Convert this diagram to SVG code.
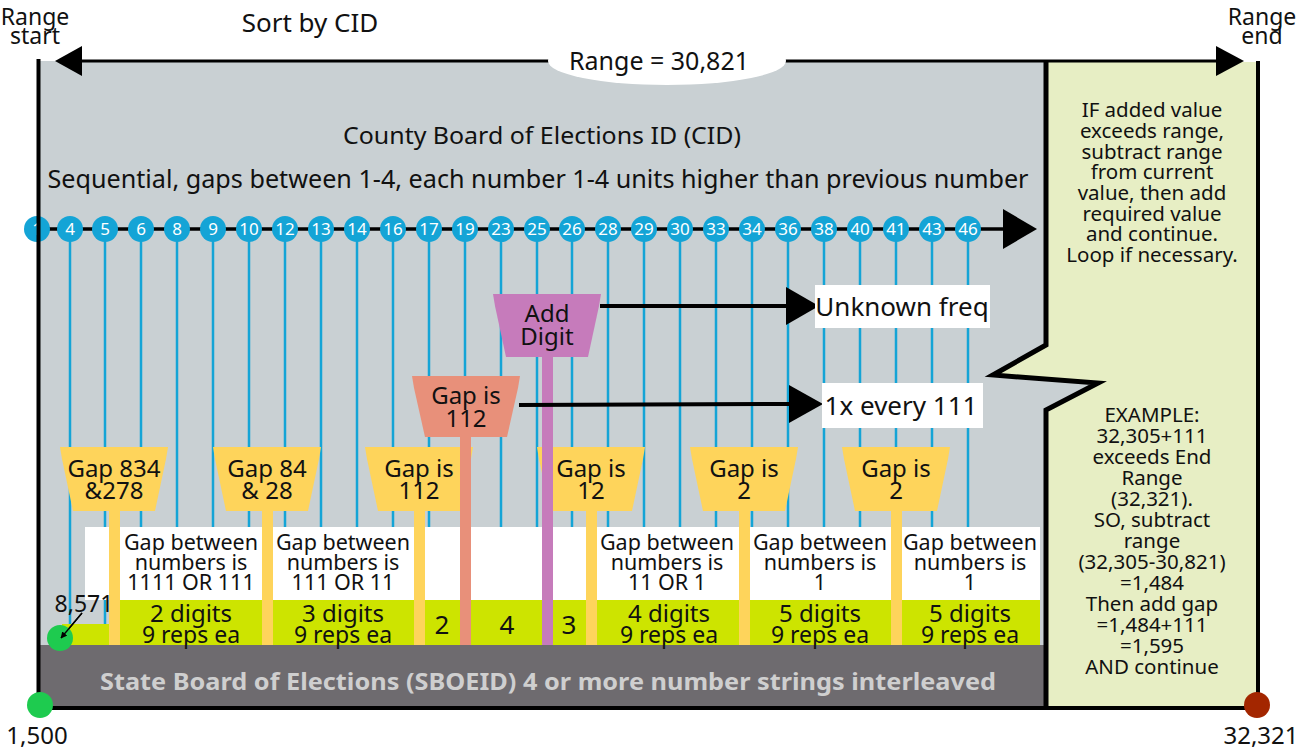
<svg xmlns="http://www.w3.org/2000/svg" width="1302" height="752" viewBox="0 0 1302 752">
<defs>
<style>
text{font-family:"Noto Sans","Open Sans",sans-serif;fill:#111;text-anchor:middle}
.c{fill:#14a4d6}
.ct{fill:#fff;font-size:17px}
.bl{stroke:#14a4d6;stroke-width:2.5}
.ye{fill:#fed45b}
.t25{font-size:24px}
.t22{font-size:21.5px}
.t24{font-size:23px}
.t21{font-size:20.5px}
.ah{fill:#000}
</style>
<marker id="sm" viewBox="0 0 10 10" refX="9" refY="5" markerWidth="5" markerHeight="5" orient="auto"><path d="M0,0 L10,5 L0,10 Z" fill="#000"/></marker>
</defs>
<rect width="1302" height="752" fill="#fff"/>
<rect x="38" y="61" width="1062" height="647" fill="#c9d0d3"/>
<polygon points="1046,62 1258,62 1258,708 1046,708 1046,410 1098,383 993,375 1046,345" fill="#e7eec4"/>
<g id="droplines">
<line class="bl" x1="70" y1="240" x2="70" y2="645"/>
<line class="bl" x1="105" y1="240" x2="105" y2="645"/>
<line class="bl" x1="141" y1="240" x2="141" y2="645"/>
<line class="bl" x1="177" y1="240" x2="177" y2="645"/>
<line class="bl" x1="213" y1="240" x2="213" y2="645"/>
<line class="bl" x1="249" y1="240" x2="249" y2="645"/>
<line class="bl" x1="285" y1="240" x2="285" y2="645"/>
<line class="bl" x1="321" y1="240" x2="321" y2="645"/>
<line class="bl" x1="357" y1="240" x2="357" y2="645"/>
<line class="bl" x1="393" y1="240" x2="393" y2="645"/>
<line class="bl" x1="429" y1="240" x2="429" y2="645"/>
<line class="bl" x1="465" y1="240" x2="465" y2="645"/>
<line class="bl" x1="501" y1="240" x2="501" y2="645"/>
<line class="bl" x1="537" y1="240" x2="537" y2="645"/>
<line class="bl" x1="572" y1="240" x2="572" y2="645"/>
<line class="bl" x1="608" y1="240" x2="608" y2="645"/>
<line class="bl" x1="644" y1="240" x2="644" y2="645"/>
<line class="bl" x1="680" y1="240" x2="680" y2="645"/>
<line class="bl" x1="716" y1="240" x2="716" y2="645"/>
<line class="bl" x1="752" y1="240" x2="752" y2="645"/>
<line class="bl" x1="788" y1="240" x2="788" y2="645"/>
<line class="bl" x1="824" y1="240" x2="824" y2="645"/>
<line class="bl" x1="860" y1="240" x2="860" y2="645"/>
<line class="bl" x1="896" y1="240" x2="896" y2="645"/>
<line class="bl" x1="932" y1="240" x2="932" y2="645"/>
<line class="bl" x1="968" y1="240" x2="968" y2="645"/>
</g>
<rect x="85" y="527" width="955" height="73" fill="#fff"/>
<rect x="120" y="600" width="920" height="45" fill="#cde400"/>
<rect x="62" y="624" width="58" height="21" fill="#cde400"/>
<rect x="40" y="645" width="1006" height="62" fill="#6e6b6f"/>
<text x="548" y="690" font-size="24" font-weight="bold" style="fill:#cfcfcf" textLength="896" lengthAdjust="spacingAndGlyphs">State Board of Elections (SBOEID) 4 or more number strings interleaved</text>
<g id="timeline">
<line x1="37" y1="229" x2="1008" y2="229" stroke="#000" stroke-width="3.5"/>
<polygon class="ah" points="1003,209 1037,229 1003,249"/>
</g>
<g id="cids">
<g id="n1"><circle class="c" cx="37" cy="229" r="13"/><text class="ct" x="37" y="235">1</text></g>
<g id="n4"><circle class="c" cx="70" cy="229" r="13"/><text class="ct" x="70" y="235">4</text></g>
<g id="n5"><circle class="c" cx="105" cy="229" r="13"/><text class="ct" x="105" y="235">5</text></g>
<g id="n6"><circle class="c" cx="141" cy="229" r="13"/><text class="ct" x="141" y="235">6</text></g>
<g id="n8"><circle class="c" cx="177" cy="229" r="13"/><text class="ct" x="177" y="235">8</text></g>
<g id="n9"><circle class="c" cx="213" cy="229" r="13"/><text class="ct" x="213" y="235">9</text></g>
<g id="n10"><circle class="c" cx="249" cy="229" r="13"/><text class="ct" x="249" y="235">10</text></g>
<g id="n12"><circle class="c" cx="285" cy="229" r="13"/><text class="ct" x="285" y="235">12</text></g>
<g id="n13"><circle class="c" cx="321" cy="229" r="13"/><text class="ct" x="321" y="235">13</text></g>
<g id="n14"><circle class="c" cx="357" cy="229" r="13"/><text class="ct" x="357" y="235">14</text></g>
<g id="n16"><circle class="c" cx="393" cy="229" r="13"/><text class="ct" x="393" y="235">16</text></g>
<g id="n17"><circle class="c" cx="429" cy="229" r="13"/><text class="ct" x="429" y="235">17</text></g>
<g id="n19"><circle class="c" cx="465" cy="229" r="13"/><text class="ct" x="465" y="235">19</text></g>
<g id="n23"><circle class="c" cx="501" cy="229" r="13"/><text class="ct" x="501" y="235">23</text></g>
<g id="n25"><circle class="c" cx="537" cy="229" r="13"/><text class="ct" x="537" y="235">25</text></g>
<g id="n26"><circle class="c" cx="572" cy="229" r="13"/><text class="ct" x="572" y="235">26</text></g>
<g id="n28"><circle class="c" cx="608" cy="229" r="13"/><text class="ct" x="608" y="235">28</text></g>
<g id="n29"><circle class="c" cx="644" cy="229" r="13"/><text class="ct" x="644" y="235">29</text></g>
<g id="n30"><circle class="c" cx="680" cy="229" r="13"/><text class="ct" x="680" y="235">30</text></g>
<g id="n33"><circle class="c" cx="716" cy="229" r="13"/><text class="ct" x="716" y="235">33</text></g>
<g id="n34"><circle class="c" cx="752" cy="229" r="13"/><text class="ct" x="752" y="235">34</text></g>
<g id="n36"><circle class="c" cx="788" cy="229" r="13"/><text class="ct" x="788" y="235">36</text></g>
<g id="n38"><circle class="c" cx="824" cy="229" r="13"/><text class="ct" x="824" y="235">38</text></g>
<g id="n40"><circle class="c" cx="860" cy="229" r="13"/><text class="ct" x="860" y="235">40</text></g>
<g id="n41"><circle class="c" cx="896" cy="229" r="13"/><text class="ct" x="896" y="235">41</text></g>
<g id="n43"><circle class="c" cx="932" cy="229" r="13"/><text class="ct" x="932" y="235">43</text></g>
<g id="n46"><circle class="c" cx="968" cy="229" r="13"/><text class="ct" x="968" y="235">46</text></g>
</g>
<g id="gaprow" class="t22">
<text x="191" y="550">Gap between</text><text x="191" y="570">numbers is</text><text x="191" y="590">1111 OR 111</text>
<text x="343" y="550">Gap between</text><text x="343" y="570">numbers is</text><text x="343" y="590">111 OR 11</text>
<text x="667" y="550">Gap between</text><text x="667" y="570">numbers is</text><text x="667" y="590">11 OR 1</text>
<text x="820" y="550">Gap between</text><text x="820" y="570">numbers is</text><text x="820" y="590">1</text>
<text x="970" y="550">Gap between</text><text x="970" y="570">numbers is</text><text x="970" y="590">1</text>
</g>
<g id="digitrow" class="t24">
<text x="191" y="622" font-size="24">2 digits</text><text x="191" y="643">9 reps ea</text>
<text x="343" y="622" font-size="24">3 digits</text><text x="343" y="643">9 reps ea</text>
<text x="442" y="634" font-size="26">2</text>
<text x="507" y="634" font-size="26">4</text>
<text x="569" y="634" font-size="26">3</text>
<text x="669" y="622" font-size="24">4 digits</text><text x="669" y="643">9 reps ea</text>
<text x="820" y="622" font-size="24">5 digits</text><text x="820" y="643">9 reps ea</text>
<text x="970" y="622" font-size="24">5 digits</text><text x="970" y="643">9 reps ea</text>
</g>
<g id="gap834">
<rect class="ye" x="109" y="505" width="11" height="140"/>
<path class="ye" d="M60,447 H168 L166,459 L155,511 H73 L62,459 Z"/>
<text class="t25" x="114" y="477" font-size="25">Gap 834</text><text class="t25" x="114" y="499">&amp;278</text>
</g>
<g id="gap84">
<rect class="ye" x="262" y="505" width="11" height="140"/>
<path class="ye" d="M213,447 H321 L319,459 L308,511 H226 L215,459 Z"/>
<text class="t25" x="267" y="477" font-size="25">Gap 84</text><text class="t25" x="267" y="499">&amp; 28</text>
</g>
<g id="gap112a">
<rect class="ye" x="414" y="505" width="11" height="140"/>
<path class="ye" d="M365,447 H473 L471,459 L460,511 H378 L367,459 Z"/>
<text class="t25" x="419" y="477" font-size="25">Gap is</text><text class="t25" x="419" y="499">112</text>
</g>
<g id="gap12">
<rect class="ye" x="586" y="505" width="11" height="140"/>
<path class="ye" d="M537,447 H645 L643,459 L632,511 H550 L539,459 Z"/>
<text class="t25" x="591" y="477" font-size="25">Gap is</text><text class="t25" x="591" y="499">12</text>
</g>
<g id="gap2a">
<rect class="ye" x="739" y="505" width="11" height="140"/>
<path class="ye" d="M690,447 H798 L796,459 L785,511 H703 L692,459 Z"/>
<text class="t25" x="744" y="477" font-size="25">Gap is</text><text class="t25" x="744" y="499">2</text>
</g>
<g id="gap2b">
<rect class="ye" x="891" y="505" width="11" height="140"/>
<path class="ye" d="M842,447 H950 L948,459 L937,511 H855 L844,459 Z"/>
<text class="t25" x="896" y="477" font-size="25">Gap is</text><text class="t25" x="896" y="499">2</text>
</g>
<g id="gap112b">
<rect x="460" y="432" width="11" height="213" fill="#e8907a"/>
<path d="M412,376 H520 L518,388 L507,437 H425 L414,388 Z" fill="#e8907a"/>
<text class="t25" x="466" y="404" font-size="25">Gap is</text><text class="t25" x="466" y="427">112</text>
</g>
<g id="adddigit">
<rect x="542" y="352" width="11" height="293" fill="#c67bbb"/>
<path d="M493,294 H601 L599,306 L588,357 H506 L495,306 Z" fill="#c67bbb"/>
<text class="t25" x="547" y="322" font-size="25">Add</text><text class="t25" x="547" y="345">Digit</text>
</g>
<g id="connectors">
<line x1="600" y1="306" x2="792" y2="306" stroke="#000" stroke-width="4"/>
<polygon class="ah" points="786,287 819,306 786,325"/>
<line x1="519" y1="405" x2="795" y2="404" stroke="#000" stroke-width="4"/>
<polygon class="ah" points="789,385 823,404 789,423"/>
<line x1="82" y1="613" x2="61" y2="638" stroke="#000" stroke-width="1.3" marker-end="url(#sm)"/>
</g>
<g id="unknown">
<rect x="815" y="285" width="175" height="43" fill="#fff"/>
<text x="902" y="316" font-size="26">Unknown freq</text>
</g>
<g id="every111">
<rect x="822" y="383" width="161" height="45" fill="#fff"/>
<text x="901" y="415" font-size="26">1x every 111</text>
</g>
<g id="marker8571">
<circle cx="60" cy="638" r="13" fill="#1ecb4f"/>
<line x1="82" y1="613" x2="61" y2="638" stroke="#000" stroke-width="1.3" marker-end="url(#sm)"/>
<text class="t24" x="84" y="612" font-size="24">8,571</text>
</g>
<g id="frame" fill="none" stroke="#000">
<line x1="38.5" y1="59" x2="38.5" y2="710" stroke-width="4"/>
<line x1="36" y1="708" x2="1260" y2="708" stroke-width="4"/>
<line x1="1258" y1="61" x2="1258" y2="710" stroke-width="4"/>
<polyline points="1046,61 1046,345 993,375 1098,383 1046,410 1046,708" stroke-width="5"/>
</g>
<g id="range">
<line x1="75" y1="61" x2="1225" y2="61" stroke="#000" stroke-width="3"/>
<polygon class="ah" points="82,46 55,61 82,76"/>
<polygon class="ah" points="1216,46 1244,61 1216,76"/>
<ellipse cx="667" cy="61" rx="119" ry="24" fill="#fff"/>
<text x="659" y="70" font-size="25">Range = 30,821</text>
</g>
<text x="310" y="32" font-size="26">Sort by CID</text>
<text x="35" y="25" font-size="23">Range</text>
<text x="35" y="44" font-size="23">start</text>
<text x="1262" y="25" font-size="23">Range</text>
<text x="1262" y="44" font-size="23">end</text>
<text x="542" y="144" font-size="24" textLength="398" lengthAdjust="spacingAndGlyphs">County Board of Elections ID (CID)</text>
<text x="538" y="188" font-size="25" textLength="981" lengthAdjust="spacingAndGlyphs">Sequential, gaps between 1-4, each number 1-4 units higher than previous number</text>
<g id="rule" class="t21">
<text x="1152" y="117">IF added value</text>
<text x="1152" y="138">exceeds range,</text>
<text x="1152" y="159">subtract range</text>
<text x="1152" y="179">from current</text>
<text x="1152" y="200">value, then add</text>
<text x="1152" y="221">required value</text>
<text x="1152" y="241">and continue.</text>
<text x="1152" y="262">Loop if necessary.</text>
</g>
<g id="example" class="t21">
<text x="1152" y="422">EXAMPLE:</text>
<text x="1152" y="443">32,305+111</text>
<text x="1152" y="464">exceeds End</text>
<text x="1152" y="485">Range</text>
<text x="1152" y="506">(32,321).</text>
<text x="1152" y="527">SO, subtract</text>
<text x="1152" y="548">range</text>
<text x="1152" y="569">(32,305-30,821)</text>
<text x="1152" y="590">=1,484</text>
<text x="1152" y="611">Then add gap</text>
<text x="1152" y="632">=1,484+111</text>
<text x="1152" y="653">=1,595</text>
<text x="1152" y="674">AND continue</text>
</g>
<g id="endpoints">
<circle cx="40" cy="705" r="13" fill="#1ecb4f"/>
<circle cx="1257" cy="705" r="13" fill="#a32600"/>
<text x="37" y="744" font-size="24">1,500</text>
<text x="1261" y="744" font-size="24">32,321</text>
</g>
</svg>
